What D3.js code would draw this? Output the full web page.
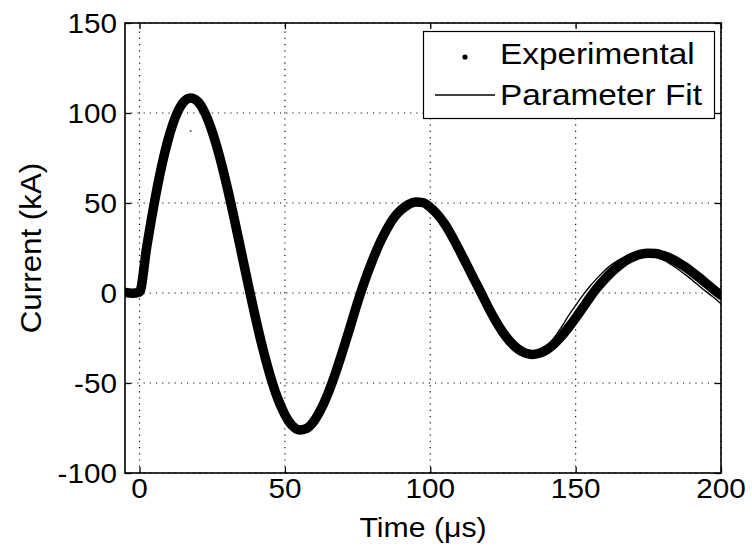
<!DOCTYPE html>
<html><head><meta charset="utf-8">
<script src="https://cdn.jsdelivr.net/npm/d3@7"></script>
<style>body{margin:0;background:#fff}svg{display:block}</style>
</head><body><svg id="c" width="752" height="547"></svg>
<script>
// ---- data ----
const time = [-5,-2.5,0,2.5,5,7.5,10,12.5,15,17.5,20,22.5,25,27.5,30,32.5,35,37.5,40,42.5,45,47.5,50,52.5,55,57.5,60,62.5,65,67.5,70,72.5,75,77.5,80,82.5,85,87.5,90,92.5,95,97.5,100,102.5,105,107.5,110,112.5,115,117.5,120,122.5,125,127.5,130,132.5,135,137.5,140,142.5,145,147.5,150,152.5,155,157.5,160,162.5,165,167.5,170,172.5,175,177.5,180,182.5,185,187.5,190,192.5,195,197.5,200];
const experimental = [0.3,-0.2,0.5,25.8,49.3,69.7,86.2,98.3,105.8,108.4,106.4,100.0,89.6,76.0,59.8,41.8,22.8,3.8,
  -14.6,-31.5,-46.3,-58.5,-67.6,-73.6,-76.1,-75.2,-71.2,-64.3,-55.1,-44.0,-31.6,-18.6,-5.2,
  6.9,17.6,27.3,35.3,41.8,46.2,49.2,50.5,50.2,47.6,43.6,38.2,31.4,23.8,15.9,7.9,0,
  -8.1,-15.5,-21.9,-27.1,-30.9,-33.3,-34.1,-33.5,-31.6,-28.5,-24.3,-19.3,-13.9,-8.1,-2.3,
  3.0,7.6,11.8,15.3,18.2,20.2,21.6,22.1,21.9,20.9,19.4,17.2,14.7,11.7,8.6,5.2,1.9,-1.3];
const parameterFit = [0,0,0.2,25.5,49.1,69.6,86.1,98.3,105.8,108.3,106.3,99.9,89.5,75.9,59.7,41.7,22.7,3.7,
  -14.7,-31.6,-46.4,-58.6,-67.6,-73.5,-76.0,-75.1,-71.1,-64.2,-55.0,-43.9,-31.5,-18.5,-5.1,
  7.0,17.7,27.4,35.4,41.9,46.3,49.3,50.5,50.2,47.5,43.5,38.1,31.3,23.7,15.7,7.7,-0.2,
  -8.3,-15.7,-22.1,-27.3,-31.1,-33.5,-34.1,-32.9,-29.7,-25.1,-19.3,-12.7,-6.9,-1.2,3.9,
  8.4,12.5,15.9,18.6,20.5,21.8,22.0,21.5,20.3,18.5,16.2,13.5,10.5,7.3,3.9,0.6,-2.5,-6.0];
const outlierTime = [17.6];
const outlierValue = [90];
const xTicks = [0,50,100,150,200];
const yTicks = [-100,-50,0,50,100,150];
const seriesNames = ["Experimental","Parameter Fit"];
const xTitle = "Time (\u03BCs)";
const yTitle = "Current (kA)";

// ---- layout ----
const m = {l:125, r:721, t:23, b:473};
const FONT = "'Liberation Sans', Arial, Helvetica, sans-serif";
const x = d3.scaleLinear().domain([-5,200]).range([m.l,m.r]);
const y = d3.scaleLinear().domain([-100,150]).range([m.b,m.t]);
const svg = d3.select("#c");

// grid
const grid = svg.append("g").attr("stroke","#111").attr("stroke-width",1.2).attr("stroke-dasharray","1.2,5");
grid.selectAll("line.v").data(xTicks).join("line").attr("class","v")
  .attr("x1",d=>x(d)).attr("x2",d=>x(d)).attr("y1",m.b).attr("y2",m.t);
grid.selectAll("line.h").data(yTicks).join("line").attr("class","h")
  .attr("x1",m.l).attr("x2",m.r).attr("y1",d=>y(d)).attr("y2",d=>y(d));

// data
svg.append("clipPath").attr("id","clip").append("rect")
  .attr("x",m.l).attr("y",m.t).attr("width",m.r-m.l).attr("height",m.b-m.t);
const idx = d3.range(time.length);
const lineExp = d3.line().x(i=>x(time[i])).y(i=>y(experimental[i])).curve(d3.curveMonotoneX);
const lineFit = d3.line().x(i=>x(time[i])).y(i=>y(parameterFit[i])).curve(d3.curveMonotoneX);
const plot = svg.append("g").attr("clip-path","url(#clip)");
plot.append("path").attr("d",lineExp(idx)).attr("fill","none").attr("stroke","#000")
  .attr("stroke-width",9.5).attr("stroke-linejoin","round").attr("stroke-linecap","round");
plot.append("path").attr("d",lineFit(idx)).attr("fill","none").attr("stroke","#000")
  .attr("stroke-width",1.4);
plot.selectAll("circle.o").data(outlierTime).join("circle").attr("class","o")
  .attr("cx",d=>x(d)).attr("cy",(d,i)=>y(outlierValue[i])).attr("r",1).attr("fill","#555");

// axes ticks (inward)
function clean(g){ g.select(".domain").remove(); g.selectAll("text").remove(); g.selectAll("line").attr("stroke","#000").attr("stroke-width",1.3); }
svg.append("g").attr("transform",`translate(${m.l},0)`).call(d3.axisLeft(y).tickValues(yTicks).tickSize(-6)).call(clean);
svg.append("g").attr("transform",`translate(${m.r},0)`).call(d3.axisRight(y).tickValues(yTicks).tickSize(-6)).call(clean);
svg.append("g").attr("transform",`translate(0,${m.b})`).call(d3.axisBottom(x).tickValues(xTicks).tickSize(-6)).call(clean);
svg.append("g").attr("transform",`translate(0,${m.t})`).call(d3.axisTop(x).tickValues(xTicks).tickSize(-6)).call(clean);
svg.append("rect").attr("x",m.l).attr("y",m.t).attr("width",m.r-m.l).attr("height",m.b-m.t)
  .attr("fill","none").attr("stroke","#000").attr("stroke-width",1.6);

// tick labels
svg.append("g").selectAll("text").data(yTicks).join("text")
  .attr("transform",d=>`translate(117,${y(d)+9.7}) scale(1.1,1)`)
  .attr("text-anchor","end").attr("font-family",FONT).attr("font-size",27).attr("fill","#000")
  .text(d=>String(d));
svg.append("g").selectAll("text").data(xTicks).join("text")
  .attr("transform",d=>`translate(${x(d)},497.5) scale(1.1,1)`)
  .attr("text-anchor","middle").attr("font-family",FONT).attr("font-size",27).attr("fill","#000")
  .text(d=>String(d));

// titles
svg.append("text").attr("transform","translate(423,536.5) scale(1.12,1)")
  .attr("text-anchor","middle").attr("font-family",FONT).attr("font-size",27).text(xTitle);
svg.append("text").attr("transform","translate(41,248) rotate(-90) scale(1.08,1)")
  .attr("text-anchor","middle").attr("font-family",FONT).attr("font-size",29).text(yTitle);

// legend
const lg = svg.append("g");
lg.append("rect").attr("x",423.5).attr("y",31.5).attr("width",291).attr("height",87)
  .attr("fill","#fff").attr("stroke","#000").attr("stroke-width",1.2);
lg.append("circle").attr("cx",465).attr("cy",57).attr("r",2.6).attr("fill","#000");
lg.append("line").attr("x1",435).attr("x2",495).attr("y1",95).attr("y2",95).attr("stroke","#000").attr("stroke-width",1.4);
lg.selectAll("text").data(seriesNames).join("text")
  .attr("transform",(d,i)=>`translate(500,${i?104.5:63.5}) scale(1.15,1)`)
  .attr("font-family",FONT).attr("font-size",29).attr("fill","#000").text(d=>d);
</script></body></html>
